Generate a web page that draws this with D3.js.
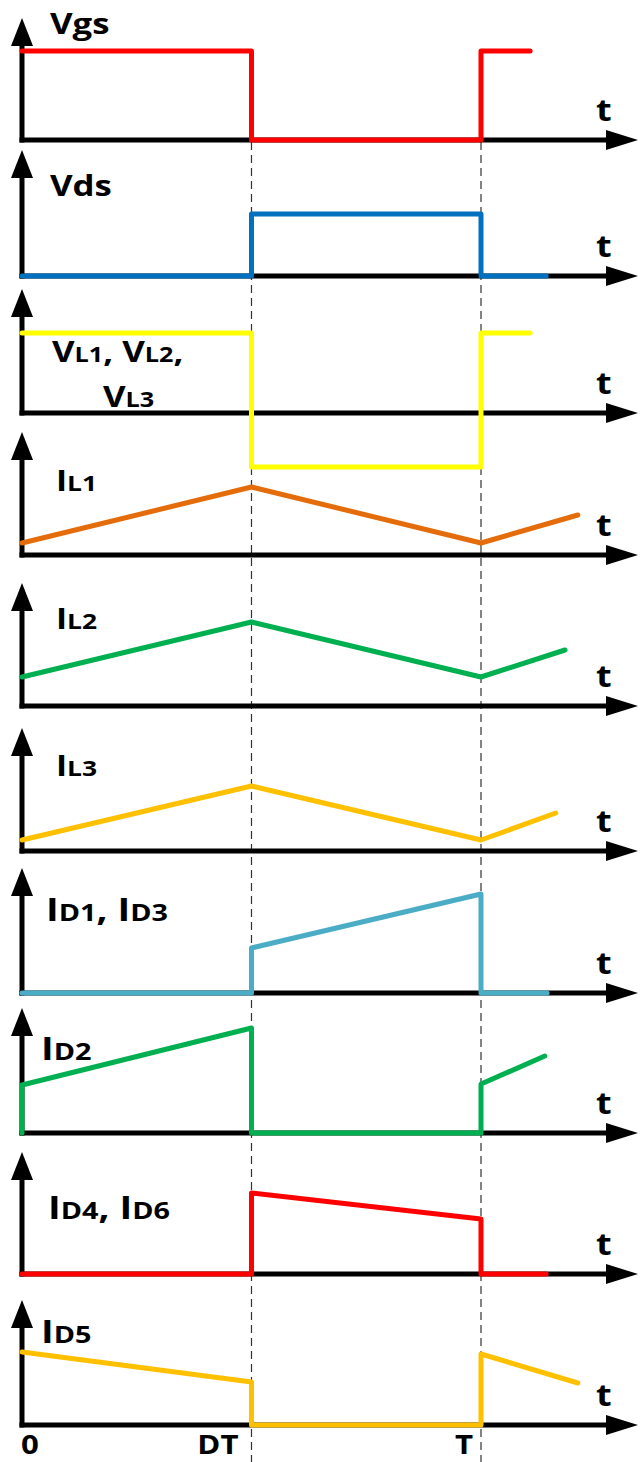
<!DOCTYPE html>
<html>
<head>
<meta charset="utf-8">
<script src="https://cdn.jsdelivr.net/npm/d3@7"></script>
<style>
  html, body { margin: 0; padding: 0; background: #fff; }
  svg { display: block; }
  text { font-family: "Open Sans", Lato, sans-serif; font-weight: 700; fill: #000; }
</style>
</head>
<body>
<svg id="chart" width="640" height="1462"></svg>
<script>
// ---- Data: one switching period, time in units of T (duty D = 0.5) ----
const timeTickLabels = ["0", "DT", "T"];
const timeTickValues = [0, 0.5, 1];

const vgs  = [[0, 0.89], [0.5, 0.89], [0.5, 0], [1, 0], [1, 0.89], [1.107, 0.89]];
const vds  = [[0, 0], [0.5, 0], [0.5, 0.62], [1, 0.62], [1, 0], [1.142, 0]];
const vL   = [[0, 0.80], [0.5, 0.80], [0.5, -0.54], [1, -0.54], [1, 0.80], [1.107, 0.80]];
const iL1  = [[0, 0.12], [0.5, 0.68], [1, 0.12], [1.211, 0.40]];
const iL2  = [[0, 0.29], [0.5, 0.84], [1, 0.29], [1.183, 0.56]];
const iL3  = [[0, 0.11], [0.5, 0.65], [1, 0.11], [1.163, 0.38]];
const iD13 = [[0, 0], [0.5, 0], [0.5, 0.45], [1, 0.99], [1, 0], [1.144, 0]];
const iD2  = [[0, 0], [0, 0.48], [0.5, 1.05], [0.5, 0], [1, 0], [1, 0.49], [1.139, 0.77]];
const iD46 = [[0, 0], [0.5, 0], [0.5, 0.81], [1, 0.55], [1, 0], [1.142, 0]];
const iD5  = [[0, 0.73], [0.5, 0.43], [0.5, 0], [1, 0], [1, 0.71], [1.211, 0.42]];

// Label pieces: [text, isSubscript]
const labelVgs  = [["Vgs", false]];
const labelVds  = [["Vds", false]];
const labelVL   = [["V", false], ["L1", true], [", ", false], ["V", false], ["L2", true], [",", false]];
const labelVL3  = [["V", false], ["L3", true]];
const labelIL1  = [["I", false], ["L1", true]];
const labelIL2  = [["I", false], ["L2", true]];
const labelIL3  = [["I", false], ["L3", true]];
const labelID13 = [["I", false], ["D1", true], [", ", false], ["I", false], ["D3", true]];
const labelID2  = [["I", false], ["D2", true]];
const labelID46 = [["I", false], ["D4", true], [", ", false], ["I", false], ["D6", true]];
const labelID5  = [["I", false], ["D5", true]];

// ---- Layout ----
const W = 640, H = 1462;
const axisX = 22, axisEnd = 638;
const stretch = 1.2;   // horizontal stretch of the lettering
const x = d3.scaleLinear().domain([0, 1]).range([axisX, 481]);

const vFont = { big: 29, small: 21 };
const lFont = { big: 28, small: 22 };
const dFont = { big: 32, small: 24 };

const panels = [
  { data: vgs,  color: "#ff0000", base: 140,  top: 18,   labels: [{ parts: labelVgs, x: 50, y: 34, f: vFont }] },
  { data: vds,  color: "#0070c0", base: 276,  top: 150,  labels: [{ parts: labelVds, x: 50, y: 196, f: vFont }] },
  { data: vL,   color: "#ffff00", base: 413,  top: 289,  labels: [{ parts: labelVL, x: 52, y: 362, f: vFont },
                                                                  { parts: labelVL3, x: 103, y: 407, f: vFont }] },
  { data: iL1,  color: "#e46c0a", base: 555,  top: 432,  labels: [{ parts: labelIL1, x: 56, y: 491, f: lFont }] },
  { data: iL2,  color: "#00b050", base: 706,  top: 583,  labels: [{ parts: labelIL2, x: 56, y: 629, f: lFont }] },
  { data: iL3,  color: "#ffc000", base: 851,  top: 728,  labels: [{ parts: labelIL3, x: 56, y: 776, f: lFont }] },
  { data: iD13, color: "#4bacc6", base: 993,  top: 868,  labels: [{ parts: labelID13, x: 46, y: 921, f: dFont }] },
  { data: iD2,  color: "#00b050", base: 1133, top: 1008, labels: [{ parts: labelID2, x: 41, y: 1060, f: dFont }] },
  { data: iD46, color: "#ff0000", base: 1274, top: 1152, labels: [{ parts: labelID46, x: 48, y: 1219, f: dFont }] },
  { data: iD5,  color: "#ffc000", base: 1425, top: 1300, labels: [{ parts: labelID5, x: 41, y: 1343, f: dFont }] }
];

const svg = d3.select("#chart");

// Dashed guides at t = DT and t = T
svg.append("g").selectAll("line")
  .data(timeTickValues.slice(1))
  .join("line")
  .attr("x1", d => x(d)).attr("x2", d => x(d))
  .attr("y1", 142).attr("y2", H)
  .attr("stroke", "#333").attr("stroke-width", 1.2)
  .attr("stroke-dasharray", "8,5");

const line = d3.line();
const axisW = 5;
const vArrowLen = 28, vArrowHalf = 11;
const hArrowLen = 32, hArrowHalf = 10;

panels.forEach(p => {
  const y = d3.scaleLinear().domain([0, 1]).range([p.base, p.base - 100]);
  const g = svg.append("g");

  // Vertical axis with arrowhead
  g.append("line")
    .attr("x1", axisX).attr("x2", axisX)
    .attr("y1", p.base + axisW / 2).attr("y2", p.top + vArrowLen - 2)
    .attr("stroke", "#000").attr("stroke-width", axisW);
  g.append("path")
    .attr("d", `M${axisX},${p.top} L${axisX - vArrowHalf},${p.top + vArrowLen} L${axisX + vArrowHalf},${p.top + vArrowLen} Z`)
    .attr("fill", "#000");

  // Horizontal (time) axis with arrowhead
  g.append("line")
    .attr("x1", axisX - axisW / 2).attr("x2", axisEnd - hArrowLen + 2)
    .attr("y1", p.base).attr("y2", p.base)
    .attr("stroke", "#000").attr("stroke-width", axisW);
  g.append("path")
    .attr("d", `M${axisEnd},${p.base} L${axisEnd - hArrowLen},${p.base - hArrowHalf} L${axisEnd - hArrowLen},${p.base + hArrowHalf} Z`)
    .attr("fill", "#000");

  // "t" axis name
  g.append("text")
    .attr("transform", `translate(596,${p.base - 19}) scale(${stretch},1)`)
    .attr("font-size", 30)
    .text("t");

  // Waveform
  g.append("path")
    .attr("d", line(p.data.map(d => [x(d[0]), y(d[1])])))
    .attr("fill", "none")
    .attr("stroke", p.color)
    .attr("stroke-width", 5)
    .attr("stroke-linejoin", "round")
    .attr("stroke-linecap", "round");

  // Signal name
  p.labels.forEach(l => {
    const t = g.append("text")
      .attr("transform", `translate(${l.x},${l.y}) scale(${stretch},1)`);
    l.parts.forEach(([s, sub]) => {
      t.append("tspan")
        .attr("font-size", sub ? l.f.small : l.f.big)
        .text(s);
    });
  });
});

// Time tick labels along the bottom axis
const tickAnchor = ["middle", "end", "end"];
const tickOffset = [8, -13, -8];
svg.append("g").selectAll("text")
  .data(timeTickValues)
  .join("text")
  .attr("transform", (d, i) => `translate(${x(d) + tickOffset[i]},1454) scale(${stretch},1)`)
  .attr("text-anchor", (d, i) => tickAnchor[i])
  .attr("font-size", 26)
  .text((d, i) => timeTickLabels[i]);
</script>
</body>
</html>
